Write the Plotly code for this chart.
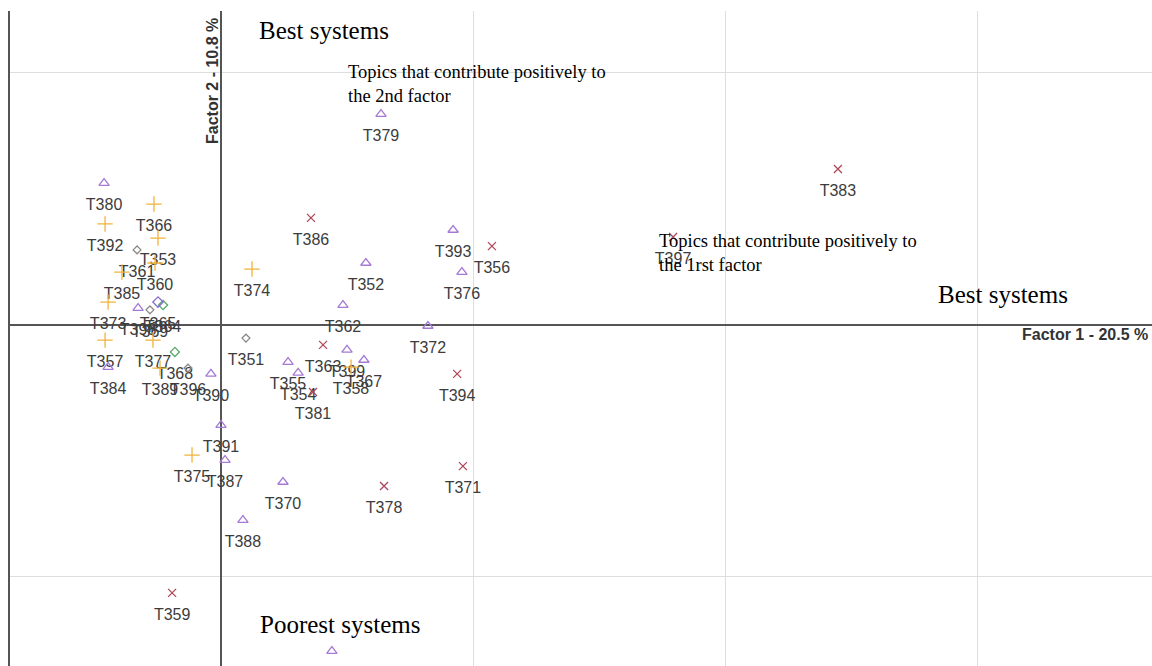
import plotly.graph_objects as go

topics = ["T379", "T383", "T380", "T366", "T392", "T353", "T361", "T360", "T385",
          "T373", "T398", "T365", "T364", "T369", "T357", "T377", "T368", "T384",
          "T389", "T396", "T390", "T351", "T386", "T374", "T352", "T362", "T393",
          "T356", "T376", "T397", "T372", "T363", "T399", "T367", "T358", "T355",
          "T354", "T381", "T394", "T391", "T375", "T387", "T371", "T370", "T378",
          "T388", "T359", "T382"]
factor1 = [0.635, 2.448, -0.464, -0.266, -0.460, -0.250, -0.333, -0.262, -0.393,
           -0.448, -0.329, -0.250, -0.230, -0.282, -0.460, -0.270, -0.183, -0.448,
           -0.242, -0.131, -0.040, 0.099, 0.357, 0.123, 0.575, 0.484, 0.921,
           1.075, 0.956, 1.794, 0.821, 0.405, 0.500, 0.567, 0.516, 0.266,
           0.306, 0.365, 0.937, 0.000, -0.115, 0.016, 0.960, 0.246, 0.647,
           0.087, -0.194, 0.440]
factor2 = [0.837, 0.619, 0.563, 0.480, 0.401, 0.345, 0.298, 0.246, 0.210,
           0.091, 0.067, 0.091, 0.079, 0.060, -0.060, -0.060, -0.107, -0.167,
           -0.171, -0.171, -0.194, -0.052, 0.425, 0.222, 0.246, 0.079, 0.377,
           0.313, 0.210, 0.349, -0.004, -0.079, -0.099, -0.139, -0.167, -0.147,
           -0.190, -0.266, -0.194, -0.397, -0.516, -0.536, -0.560, -0.623, -0.639,
           -0.774, -1.063, -1.294]
groups = ["tri", "x", "tri", "plus", "plus", "plus", "dgray", "plus", "plus",
          "plus", "tri", "dpurple", "dgreen", "dgray", "plus", "plus", "dgreen", "tri",
          "plus", "dgray", "tri", "dgray", "x", "plus", "tri", "tri", "tri",
          "x", "tri", "x", "tri", "x", "tri", "tri", "plus", "tri",
          "tri", "x", "x", "tri", "plus", "tri", "x", "tri", "x",
          "tri", "x", "tri"]

x_title = "Factor 1 - 20.5 %"
y_title = "Factor 2 - 10.8 %"

# ---- styles ----
styles = {
    "tri": dict(symbol="triangle-up-open", color="#a57ad6", size=9),
    "x": dict(symbol="x-thin-open", color="#b0475a", size=8),
    "plus": dict(symbol="cross-thin-open", color="#f2b33d", size=11),
    "dgray": dict(symbol="diamond-open", color="#8a8a8a", size=6),
    "dgreen": dict(symbol="diamond-open", color="#5aa86a", size=7),
    "dpurple": dict(symbol="diamond-open", color="#8a6ad0", size=8),
}

fig = go.Figure()
# labels: drawn with a transparent spacer marker so they sit a little below each point
fig.add_trace(go.Scatter(
    x=factor1, y=factor2, text=topics,
    mode="markers+text", textposition="bottom center",
    textfont=dict(family="Liberation Sans, Arial", size=16, color="#3c3c3c"),
    marker=dict(size=22, color="rgba(0,0,0,0)", line=dict(width=0)),
    showlegend=False, hoverinfo="skip", cliponaxis=True,
))
for g, st in styles.items():
    idx = [i for i, gg in enumerate(groups) if gg == g]
    fig.add_trace(go.Scatter(
        x=[factor1[i] for i in idx],
        y=[factor2[i] for i in idx],
        text=[topics[i] for i in idx],
        mode="markers",
        marker=dict(symbol=st["symbol"], size=st["size"],
                    line=dict(color=st["color"], width=1.3), color=st["color"]),
        showlegend=False,
        cliponaxis=True,
    ))

serif = dict(family="Liberation Serif, Times New Roman", color="black")
ann = [
    dict(x=0.143, y=1.167, text="Best systems", xanchor="left", yanchor="middle",
         font=dict(size=25, **serif)),
    dict(x=0.496, y=0.958, text="Topics that contribute positively to<br>the 2nd factor",
         xanchor="left", yanchor="middle", align="left", font=dict(size=18.5, **serif)),
    dict(x=1.730, y=0.284, text="Topics that contribute positively to<br>the 1rst factor",
         xanchor="left", yanchor="middle", align="left", font=dict(size=18.5, **serif)),
    dict(x=2.837, y=0.123, text="Best systems", xanchor="left", yanchor="middle",
         font=dict(size=25, **serif)),
    dict(x=-0.857, y=-0.302, text="Poorest systems", xanchor="left", yanchor="middle",
         font=dict(size=25, **serif)),
    dict(x=0.147, y=-1.190, text="Poorest systems", xanchor="left", yanchor="middle",
         font=dict(size=25, **serif)),
    dict(x=3.687, y=-0.036, text="<b>" + x_title + "</b>", xanchor="right", yanchor="middle",
         font=dict(family="Liberation Sans, Arial", size=16, color="#333333")),
    dict(x=-0.036, y=0.968, text="<b>" + y_title + "</b>", xanchor="center", yanchor="middle",
         textangle=-90, font=dict(family="Liberation Sans, Arial", size=16, color="#333333")),
]
for a in ann:
    a.update(xref="x", yref="y", showarrow=False)
    fig.add_annotation(**a)

fig.update_layout(
    width=1152, height=666,
    margin=dict(l=10, r=0, t=11, b=0),
    paper_bgcolor="white", plot_bgcolor="white",
    xaxis=dict(range=[-0.8373, 3.6944], tickvals=[0, 1, 2, 3], showticklabels=False,
               gridcolor="#dedede", gridwidth=1, zeroline=True, zerolinecolor="#555555",
               zerolinewidth=2, showline=False, ticks=""),
    yaxis=dict(range=[-1.3532, 1.246], tickvals=[-1, 0, 1], showticklabels=False,
               gridcolor="#dedede", gridwidth=1, zeroline=True, zerolinecolor="#555555",
               zerolinewidth=2, showline=True, linecolor="#555555", linewidth=2,
               ticks=""),
)

fig.write_html("out.html")
